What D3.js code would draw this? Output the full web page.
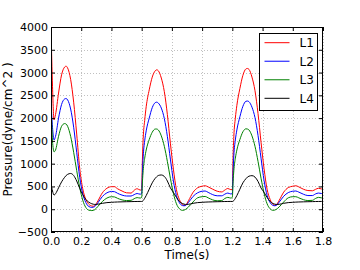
<!DOCTYPE html>
<html>
<head>
<meta charset="utf-8">
<script src="https://cdn.jsdelivr.net/npm/d3@7"></script>
<style>
  body { margin: 0; background: #fff; }
  svg { display: block; font-family: "DejaVu Sans", sans-serif; }
</style>
</head>
<body>
<svg width="360" height="270"></svg>
<script>
// time samples (s), three heart cycles of 0.6 s
const time = [
  0.00,0.01,0.02,0.03,0.05,0.07,0.09,0.10,0.11,0.13,0.15,0.17,0.19,0.21,0.23,0.25,0.27,0.28,0.29,0.31,0.34,0.37,0.40,0.42,0.44,0.47,0.50,0.53,0.55,0.57,0.59,
  0.60,0.605,0.61,0.62,0.63,0.65,0.67,0.69,0.70,0.71,0.73,0.75,0.77,0.79,0.81,0.83,0.85,0.87,0.88,0.89,0.91,0.94,0.97,1.00,1.02,1.04,1.07,1.10,1.13,1.15,1.17,1.19,
  1.20,1.205,1.21,1.22,1.23,1.25,1.27,1.29,1.30,1.31,1.33,1.35,1.37,1.39,1.41,1.43,1.45,1.47,1.48,1.49,1.51,1.54,1.57,1.60,1.62,1.64,1.67,1.70,1.73,1.75,1.77,1.79,1.80
];

const L1 = [
  4000,2700,1960,2080,2550,2950,3120,3140,3100,2850,2350,1650,900,450,220,110,70,65,80,180,360,460,495,495,450,400,360,355,415,450,420,
  430,1100,1550,1950,2250,2620,2900,3040,3060,3040,2880,2580,2080,1450,880,430,210,105,85,90,190,370,470,505,515,490,440,395,380,420,455,430,
  430,1150,1600,2000,2280,2650,2940,3080,3090,3070,2900,2600,2100,1470,890,440,215,105,88,95,195,375,475,505,515,490,440,410,405,435,460,445,450
];

const L2 = [
  2350,1800,1520,1600,2000,2300,2420,2430,2400,2200,1800,1250,700,340,150,60,40,45,60,140,280,360,390,385,350,310,290,290,320,345,330,
  340,800,1150,1500,1720,2000,2230,2340,2350,2330,2220,1990,1600,1100,620,300,140,80,75,80,150,280,360,395,400,370,320,295,295,330,355,335,
  340,820,1180,1520,1740,2030,2260,2370,2375,2360,2240,2010,1620,1120,630,305,145,82,76,82,155,285,365,395,400,375,330,300,300,335,355,345,350
];

const L3 = [
  2300,1500,1260,1300,1600,1820,1880,1870,1820,1600,1250,850,480,200,40,-20,-30,-25,-10,60,170,245,275,270,240,205,190,195,230,255,245,
  260,600,850,1120,1300,1530,1690,1760,1760,1740,1610,1380,1050,680,350,120,10,-25,-20,-5,50,160,250,275,280,250,205,185,190,235,260,245,
  260,600,850,1120,1300,1530,1700,1765,1760,1740,1610,1380,1050,680,350,120,10,-25,-20,-5,50,160,250,275,275,250,210,190,195,235,260,250,255
];

const L4 = [
  560,400,310,340,470,600,700,740,765,785,740,620,460,320,215,155,120,110,105,110,130,145,152,156,159,162,165,167,169,170,171,
  170,175,190,240,300,440,580,680,715,740,752,720,620,470,370,260,170,125,112,105,108,130,145,152,156,159,162,165,167,169,170,171,
  170,175,190,240,300,440,580,670,705,725,737,705,610,465,370,260,170,125,112,105,108,130,145,152,156,159,162,165,167,169,170,171,172
];

const seriesNames = ["L1", "L2", "L3", "L4"];
const seriesColors = ["#ff0000", "#0000ff", "#008000", "#000000"];
const xTicks = [0, 0.2, 0.4, 0.6, 0.8, 1.0, 1.2, 1.4, 1.6, 1.8];
const yTicks = [-500, 0, 500, 1000, 1500, 2000, 2500, 3000, 3500, 4000];

const plot = {left: 51, right: 323, top: 27, bottom: 232};

const svg = d3.select("svg");

const x = d3.scaleLinear().domain([0, 1.8]).range([plot.left, plot.right]);
const y = d3.scaleLinear().domain([-500, 4000]).range([plot.bottom, plot.top]);

svg.append("defs").append("clipPath")
    .attr("id", "plot-clip")
  .append("rect")
    .attr("x", plot.left).attr("y", plot.top)
    .attr("width", plot.right - plot.left).attr("height", plot.bottom - plot.top);

// dotted grid
const grid = svg.append("g")
    .attr("stroke", "#b0b0b0")
    .attr("stroke-width", 0.8)
    .attr("stroke-dasharray", "1,2");
grid.selectAll(".gx").data(xTicks).join("line")
    .attr("x1", d => Math.round(x(d)) + 0.5).attr("x2", d => Math.round(x(d)) + 0.5)
    .attr("y1", plot.top).attr("y2", plot.bottom);
grid.selectAll(".gy").data(yTicks).join("line")
    .attr("y1", d => Math.round(y(d)) + 0.5).attr("y2", d => Math.round(y(d)) + 0.5)
    .attr("x1", plot.left).attr("x2", plot.right);

// curves
const allSeries = [L1, L2, L3, L4];
const line = d3.line()
    .x((d, i) => x(time[i]))
    .y(d => y(d))
    .curve(d3.curveMonotoneX);

svg.append("g")
    .attr("clip-path", "url(#plot-clip)")
  .selectAll("path")
  .data(allSeries)
  .join("path")
    .attr("fill", "none")
    .attr("stroke", (d, i) => seriesColors[i])
    .attr("stroke-width", 1)
    .attr("d", line);

// axes, ticks pointing inward on all four sides
svg.append("g")
    .attr("transform", `translate(0,${plot.bottom})`)
    .call(d3.axisBottom(x).tickValues(xTicks).tickFormat(d3.format(".1f")).tickSize(-4).tickPadding(5));
svg.append("g")
    .attr("transform", `translate(${plot.left},0)`)
    .call(d3.axisLeft(y).tickValues(yTicks).tickFormat(d3.format("d")).tickSize(-4).tickPadding(3));
svg.append("g")
    .attr("transform", `translate(0,${plot.top})`)
    .call(d3.axisTop(x).tickValues(xTicks).tickFormat("").tickSize(-4));
svg.append("g")
    .attr("transform", `translate(${plot.right},0)`)
    .call(d3.axisRight(y).tickValues(yTicks).tickFormat("").tickSize(-4));

svg.selectAll(".domain").remove();
svg.selectAll(".tick line").attr("stroke", "#000");
svg.selectAll(".tick text")
    .attr("font-family", "DejaVu Sans")
    .attr("font-size", 11)
    .attr("fill", "#000");

// frame
svg.append("rect")
    .attr("x", plot.left + 0.5).attr("y", plot.top + 0.5)
    .attr("width", plot.right - plot.left - 1).attr("height", plot.bottom - plot.top - 1)
    .attr("fill", "none")
    .attr("stroke", "#000");

// axis labels
svg.append("text")
    .attr("x", (plot.left + plot.right) / 2)
    .attr("y", 259)
    .attr("text-anchor", "middle")
    .attr("font-size", 12)
    .text("Time(s)");

svg.append("text")
    .attr("transform", `translate(12,${(plot.top + plot.bottom) / 2}) rotate(-90)`)
    .attr("text-anchor", "middle")
    .attr("font-size", 12)
    .text("Pressure(dyne/cm^2 )");

// legend
const legend = svg.append("g").attr("transform", "translate(259.5,33.5)");
legend.append("rect")
    .attr("width", 58).attr("height", 77)
    .attr("fill", "#fff")
    .attr("stroke", "#000");

const rowY = d3.scalePoint().domain(seriesNames).range([9.2, 64.8]);
const rows = legend.selectAll(".key-item")
    .data(seriesNames)
    .join("g")
    .attr("class", "key-item")
    .attr("transform", d => `translate(0,${rowY(d)})`);
rows.append("line")
    .attr("x1", 5).attr("x2", 30)
    .attr("stroke", (d, i) => seriesColors[i])
    .attr("stroke-width", 1);
rows.append("text")
    .attr("x", 40)
    .attr("dy", "0.36em")
    .attr("font-size", 12)
    .text(d => d);
</script>
</body>
</html>
